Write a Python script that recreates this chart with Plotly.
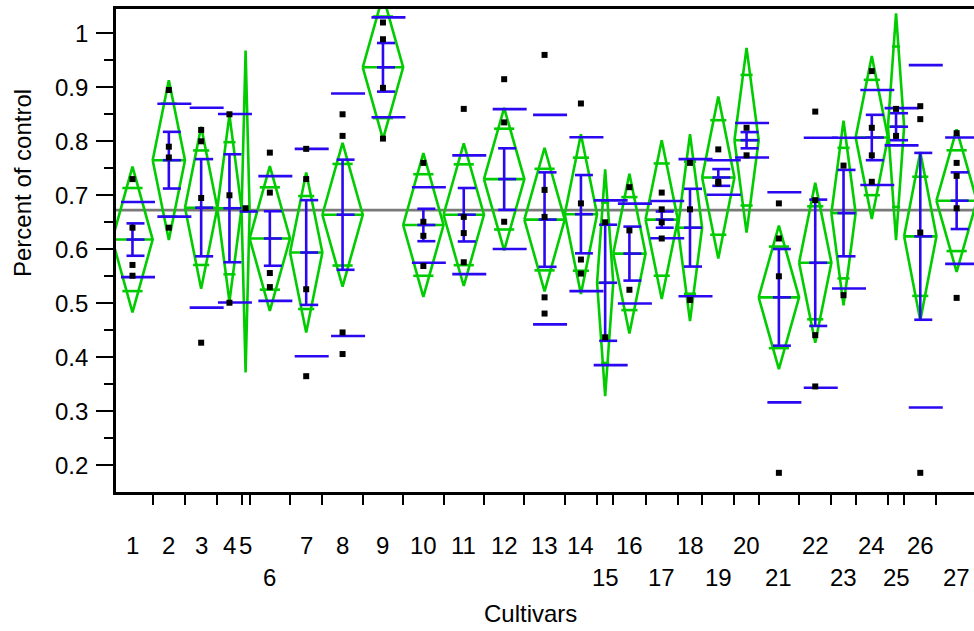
import numpy as np
import plotly.graph_objects as go

# ---------------- data ----------------
cultivars = [str(i) for i in range(1, 28)]
n_obs = [5, 4, 4, 3, 1, 5, 4, 5, 5, 5, 5, 5, 5, 4, 2, 4, 4, 3, 4, 3, 5, 4, 3, 4, 2, 4, 5]
means = [0.618, 0.765, 0.677, 0.676, 0.670, 0.620, 0.594, 0.664, 0.937, 0.645,
         0.664, 0.730, 0.655, 0.665, 0.538, 0.592, 0.655, 0.640, 0.733, 0.802,
         0.511, 0.575, 0.667, 0.807, 0.827, 0.624, 0.690]
ci_half = [0.135, 0.148, 0.150, 0.173, 0.298, 0.134, 0.148, 0.133, 0.133, 0.133,
           0.132, 0.132, 0.133, 0.148, 0.210, 0.148, 0.147, 0.173, 0.150, 0.171,
           0.133, 0.148, 0.171, 0.151, 0.210, 0.156, 0.132]
se_half = [0.030, 0.0525, 0.090, 0.100, 0.0, 0.0505, 0.097, 0.102, 0.045, 0.030,
           0.0495, 0.057, 0.0875, 0.0725, 0.1075, 0.050, 0.015, 0.072, 0.0155, 0.015,
           0.0895, 0.117, 0.080, 0.042, 0.025, 0.1545, 0.0525]
sd = [0.0695, 0.1045, 0.185, 0.1745, 0.0, 0.1155, 0.192, 0.2245, 0.0925, 0.070,
      0.110, 0.1295, 0.194, 0.1425, 0.1525, 0.0925, 0.0345, 0.127, 0.032, 0.032,
      0.1945, 0.2315, 0.1395, 0.088, 0.0345, 0.317, 0.117]
points = [
    [0.730, 0.640, 0.571, 0.551],
    [0.895, 0.790, 0.770, 0.640],
    [0.821, 0.800, 0.695, 0.427],
    [0.850, 0.700, 0.501],
    [0.676],
    [0.779, 0.705, 0.556, 0.530],
    [0.786, 0.730, 0.526, 0.365],
    [0.850, 0.810, 0.446, 0.406],
    [1.020, 0.989, 0.899, 0.805],
    [0.760, 0.651, 0.625, 0.569],
    [0.860, 0.660, 0.630, 0.576],
    [0.915, 0.835, 0.651],
    [0.960, 0.710, 0.660, 0.511, 0.481],
    [0.870, 0.685, 0.581, 0.555],
    [0.650, 0.437],
    [0.715, 0.635, 0.525],
    [0.705, 0.674, 0.650, 0.620],
    [0.760, 0.674, 0.506],
    [0.785, 0.725, 0.722],
    [0.825, 0.774],
    [0.685, 0.620, 0.550, 0.186],
    [0.855, 0.691, 0.441, 0.346],
    [0.755, 0.515],
    [0.930, 0.825, 0.774, 0.725],
    [0.860, 0.810],
    [0.865, 0.841, 0.631, 0.186],
    [0.815, 0.760, 0.736, 0.676, 0.510],
]
grand_mean = 0.6725
second_row_labels = ["6", "15", "17", "19", "21", "23", "25", "27"]
y_ticks = [0.2, 0.3, 0.4, 0.5, 0.6, 0.7, 0.8, 0.9, 1.0]
y_ticktext = ["0.2", "0.3", "0.4", "0.5", "0.6", "0.7", "0.8", "0.9", "1"]
y_minor = [0.25, 0.35, 0.45, 0.55, 0.65, 0.75, 0.85, 0.95]

# ---------------- style / geometry ----------------
W, H = 974, 631
ML, MT, MB, MR = 116, 9, 139, 0
PX = 8.08                      # pixels per observation unit on x
X0 = 0.46                      # x value at left axis
plot_w = W - ML - MR
plot_h = H - MT - MB
x_range = [X0, X0 + plot_w / PX]
y_range = [0.1505, 1.045]
GREEN = "#00cc00"
BLUE = "#2a08f0"
FONT = "Liberation Sans, Arial, sans-serif"
LW = 2.6

n_arr = np.array(n_obs, dtype=float)
edges = np.concatenate([[0.0], np.cumsum(n_arr)])
centers = edges[:-1] + n_arr / 2
halfw = n_arr / 2

gx, gy, bx, by, px_, py_ = [], [], [], [], [], []
for i in range(len(cultivars)):
    c, h, m, ci = centers[i], halfw[i], means[i], ci_half[i]
    # diamond
    gx += [c - h, c, c + h, c, c - h, None, c - h, c + h, None]
    gy += [m, m + ci, m, m - ci, m, None, m, m, None]
    # overlap marks
    om = ci / np.sqrt(2)
    for s in (1, -1):
        gx += [c - 0.5 * h, c + 0.5 * h, None]
        gy += [m + s * om, m + s * om, None]
    # std dev lines
    if sd[i] > 0:
        for s in (1, -1):
            bx += [c - 11.5 / PX, c + 22.5 / PX, None]
            by += [m + s * sd[i], m + s * sd[i], None]
    # error bars
    cl, cr = c - 6 / PX, c + 12 / PX
    if se_half[i] > 0:
        bx += [c, c, None]
        by += [m - se_half[i], m + se_half[i], None]
        for s in (1, -1):
            bx += [cl, cr, None]
            by += [m + s * se_half[i], m + s * se_half[i], None]
    bx += [cl, cr, None]
    by += [m, m, None]
    for v in points[i]:
        px_.append(c)
        py_.append(v)

fig = go.Figure()
fig.add_trace(go.Scatter(x=x_range, y=[grand_mean, grand_mean], mode="lines",
                         line=dict(color="#7a7a7a", width=2.6), hoverinfo="skip"))
fig.add_trace(go.Scatter(x=gx, y=gy, mode="lines", line=dict(color=GREEN, width=LW),
                         hoverinfo="skip"))
fig.add_trace(go.Scatter(x=bx, y=by, mode="lines", line=dict(color=BLUE, width=LW),
                         hoverinfo="skip"))
fig.add_trace(go.Scatter(x=px_, y=py_, mode="markers",
                         marker=dict(symbol="square", size=6, color="black"),
                         hoverinfo="skip"))

# x labels in two rows
def ypix(Y):
    return (H - MB - Y) / plot_h

annotations = []
for i, lab in enumerate(cultivars):
    row2 = lab in second_row_labels
    annotations.append(dict(x=centers[i], y=ypix(577 if row2 else 545), xref="x", yref="paper",
                            text=lab, showarrow=False, xanchor="center", yanchor="middle",
                            font=dict(size=24, color="black", family=FONT)))
annotations.append(dict(x=(530 - ML) / plot_w, y=ypix(613), xref="paper", yref="paper",
                        text="Cultivars", showarrow=False, xanchor="center", yanchor="middle",
                        font=dict(size=24, color="black", family=FONT)))
annotations.append(dict(x=(22 - ML) / plot_w, y=ypix(183), xref="paper", yref="paper",
                        text="Percent of control", showarrow=False, textangle=-90,
                        xanchor="center", yanchor="middle",
                        font=dict(size=24, color="black", family=FONT)))

fig.update_layout(
    width=W, height=H,
    margin=dict(l=ML, r=MR, t=MT, b=MB, autoexpand=False),
    paper_bgcolor="white", plot_bgcolor="white",
    showlegend=False,
    font=dict(family=FONT, size=24, color="black"),
    annotations=annotations,
    xaxis=dict(range=x_range, showgrid=False, zeroline=False,
               showline=True, linecolor="black", linewidth=2.6, mirror=True,
               tickmode="array", tickvals=list(edges[1:-1]),
               ticktext=[""] * (len(edges) - 2),
               ticks="outside", ticklen=10, tickwidth=2.4, tickcolor="black"),
    yaxis=dict(range=y_range, showgrid=False, zeroline=False,
               showline=True, linecolor="black", linewidth=2.6, mirror=False,
               tickmode="array", tickvals=y_ticks, ticktext=y_ticktext,
               ticks="outside", ticklen=17, tickwidth=2.4, tickcolor="black",
               ticklabelstandoff=3,
               tickfont=dict(size=24, color="black", family=FONT),
               minor=dict(tickmode="array", tickvals=y_minor, ticks="outside",
                          ticklen=9, tickwidth=2.4, tickcolor="black")),
)

fig.write_html("out.html")
